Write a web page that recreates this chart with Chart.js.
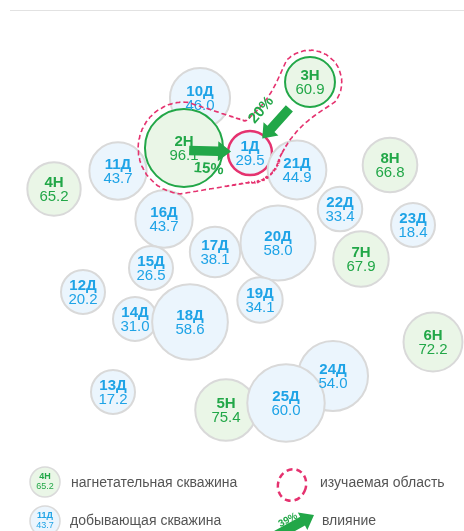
<!DOCTYPE html>
<html lang="ru">
<head>
<meta charset="utf-8">
<script src="https://cdn.jsdelivr.net/npm/chart.js@4"></script>
<style>
  html, body { margin: 0; padding: 0; background: #fff; }
  #wrap { width: 464px; height: 531px; }
</style>
</head>
<body>
<div id="wrap"><canvas id="map" width="464" height="531"></canvas></div>
<script>
// Well map: injectors (Н) and producers (Д), bubble size follows the rate.
// Order matters: later wells are drawn on top of earlier ones.
const wellNames = ["10Д", "11Д", "4Н", "2Н", "3Н", "1Д", "21Д", "8Н", "22Д", "23Д", "16Д", "17Д",
  "20Д", "7Н", "15Д", "12Д", "19Д", "14Д", "18Д", "6Н", "13Д", "24Д", "5Н", "25Д"]
const wellX = [200, 118, 54, 184, 310, 250, 297, 390, 340, 413, 164, 215,
  278, 361, 151, 83, 260, 135, 190, 433, 113, 333, 226, 286]
const wellY = [98, 171, 189, 148, 82, 153, 170, 165, 209, 225, 219, 252,
  243, 259, 268, 292, 300, 319, 322, 342, 392, 376, 410, 403]
const wellValues = [46.0, 43.7, 65.2, 96.1, 60.9, 29.5, 44.9, 66.8, 33.4, 18.4, 43.7, 38.1,
  58.0, 67.9, 26.5, 20.2, 34.1, 31.0, 58.6, 72.2, 17.2, 54.0, 75.4, 60.0]

// studied area and influence of injectors on the target producer
const targetWell = "1Д"
const influenceFrom = ["2Н", "3Н"]
const influenceShare = [15, 20]

const GREEN = "#22a748"
const BLUE = "#1ea3e6"
const PINK = "#e5326f"
const FONT = "'Liberation Sans', Arial, sans-serif"

const isInjector = (name) => name.endsWith("Н")
const radiusFor = (name, v) => isInjector(name)
  ? 25 + (v - 61) * 0.4
  : Math.max(22, 22 + (v - 33) * 0.62)
const inStudy = (name) => name === targetWell || influenceFrom.includes(name)

const points = wellNames.map((n, i) => ({ x: wellX[i], y: wellY[i], r: radiusFor(n, wellValues[i]) }))

function drawArrow(ctx, x1, y1, x2, y2, shaft, headW, headL, color) {
  const a = Math.atan2(y2 - y1, x2 - x1)
  const len = Math.hypot(x2 - x1, y2 - y1)
  ctx.save()
  ctx.translate(x1, y1)
  ctx.rotate(a)
  ctx.fillStyle = color
  ctx.beginPath()
  ctx.moveTo(0, -shaft / 2)
  ctx.lineTo(len - headL, -shaft / 2)
  ctx.lineTo(len - headL, -headW / 2)
  ctx.lineTo(len, 0)
  ctx.lineTo(len - headL, headW / 2)
  ctx.lineTo(len - headL, shaft / 2)
  ctx.lineTo(0, shaft / 2)
  ctx.closePath()
  ctx.fill()
  ctx.restore()
}

// a "link" is a tapered band between two wells, optionally pinched in the middle
function insideLink(l, px, py) {
  const vx = l.b.x - l.a.x, vy = l.b.y - l.a.y
  let t = ((px - l.a.x) * vx + (py - l.a.y) * vy) / (vx * vx + vy * vy)
  t = Math.max(0, Math.min(1, t))
  const R = l.a.R + (l.b.R - l.a.R) * t - l.pinch * Math.sin(Math.PI * t)
  return Math.hypot(px - (l.a.x + vx * t), py - (l.a.y + vy * t)) <= R
}

// outline of the union of links, traced by rays from the target well
function outlineOf(links, cx, cy) {
  const out = []
  for (let k = 0; k < 720; k++) {
    const th = (k / 720) * Math.PI * 2
    const ux = Math.cos(th), uy = Math.sin(th)
    let r = 0
    for (let s = 180; s > 0; s -= 0.5) {
      const px = cx + ux * s, py = cy + uy * s
      if (links.some((l) => insideLink(l, px, py))) { r = s; break }
    }
    out.push([cx + ux * r, cy + uy * r])
  }
  return out
}

const overlay = {
  id: "overlay",
  afterDatasetsDraw(chart) {
    const ctx = chart.ctx
    const meta = chart.getDatasetMeta(0)
    const well = (name) => {
      const i = wellNames.indexOf(name)
      return { x: meta.data[i].x, y: meta.data[i].y, r: points[i].r }
    }

    // faint frame line at the top
    ctx.save()
    ctx.strokeStyle = "#e2e2e2"
    ctx.lineWidth = 1
    ctx.beginPath()
    ctx.moveTo(10, 10.5)
    ctx.lineTo(464, 10.5)
    ctx.stroke()
    ctx.restore()

    // well labels
    ctx.save()
    ctx.textAlign = "center"
    ctx.textBaseline = "middle"
    wellNames.forEach((n, i) => {
      const el = meta.data[i]
      ctx.fillStyle = isInjector(n) ? GREEN : BLUE
      ctx.font = `bold 15px ${FONT}`
      ctx.fillText(n, el.x, el.y - 6)
      ctx.font = `15px ${FONT}`
      ctx.fillText(wellValues[i].toFixed(1), el.x, el.y + 8)
    })
    ctx.restore()

    // studied area: bands joining each injector to the target
    const t = well(targetWell)
    const tc = { x: t.x, y: t.y, R: t.r + 8 }
    const links = influenceFrom.map((n) => {
      const s = well(n)
      const far = Math.hypot(s.x - t.x, s.y - t.y) - s.r - t.r
      return { a: tc, b: { x: s.x, y: s.y, R: s.r + 7 }, pinch: Math.max(0, far - 10) * 0.25 }
    })
    const outline = outlineOf(links, t.x, t.y)
    ctx.save()
    ctx.strokeStyle = PINK
    ctx.lineWidth = 1.6
    ctx.setLineDash([5, 3])
    ctx.beginPath()
    outline.forEach((p, i) => i ? ctx.lineTo(p[0], p[1]) : ctx.moveTo(p[0], p[1]))
    ctx.closePath()
    ctx.stroke()
    ctx.restore()

    // influence arrows
    influenceFrom.forEach((n, i) => {
      const s = well(n)
      const len = Math.hypot(t.x - s.x, t.y - s.y)
      const dx = (t.x - s.x) / len, dy = (t.y - s.y) / len
      const x2 = t.x - dx * 19, y2 = t.y - dy * 19
      const x1 = x2 - dx * 42, y1 = y2 - dy * 42
      drawArrow(ctx, x1, y1 + 2, x2, y2, 9.5, 20, 13, GREEN)
      const mx = (x1 + x2) / 2 - dy * 19, my = (y1 + y2) / 2 + dx * 19
      let a = Math.atan2(dy, dx)
      if (a > Math.PI / 2) a -= Math.PI
      if (a < -Math.PI / 2) a += Math.PI
      ctx.save()
      ctx.translate(mx, my)
      ctx.rotate(a)
      ctx.fillStyle = GREEN
      ctx.font = `bold 15px ${FONT}`
      ctx.textAlign = "center"
      ctx.textBaseline = "middle"
      ctx.fillText(influenceShare[i] + "%", 0, 0)
      ctx.restore()
    })
  },
  afterDraw(chart) {
    const ctx = chart.ctx
    ctx.save()
    // legend bubbles
    const sample = (x, y, fill, color, name, value) => {
      ctx.beginPath()
      ctx.arc(x, y, 15, 0, Math.PI * 2)
      ctx.fillStyle = fill
      ctx.fill()
      ctx.strokeStyle = "#dadada"
      ctx.lineWidth = 1.5
      ctx.stroke()
      ctx.fillStyle = color
      ctx.textAlign = "center"
      ctx.textBaseline = "middle"
      ctx.font = `bold 9px ${FONT}`
      ctx.fillText(name, x, y - 5)
      ctx.font = `9px ${FONT}`
      ctx.fillText(value, x, y + 5)
    }
    sample(45, 482, "#eaf6e7", GREEN, "4Н", "65.2")
    sample(45, 521, "#ebf5fd", BLUE, "11Д", "43.7")

    // studied area sample
    ctx.strokeStyle = PINK
    ctx.lineWidth = 2.5
    ctx.setLineDash([6, 4])
    ctx.beginPath()
    ctx.ellipse(292, 485, 14, 16, 0.3, 0, Math.PI * 2)
    ctx.stroke()
    ctx.setLineDash([])

    // influence sample
    drawArrow(ctx, 268, 540, 314, 515, 10, 20, 13, GREEN)
    ctx.save()
    ctx.translate(288, 520)
    ctx.rotate(-0.5)
    ctx.fillStyle = GREEN
    ctx.font = `bold 10px ${FONT}`
    ctx.textAlign = "center"
    ctx.textBaseline = "middle"
    ctx.fillText("39%", 0, 0)
    ctx.restore()

    // legend texts
    ctx.fillStyle = "#555"
    ctx.font = `14px ${FONT}`
    ctx.textAlign = "left"
    ctx.textBaseline = "middle"
    ctx.fillText("нагнетательная скважина", 71, 483)
    ctx.fillText("добывающая скважина", 70, 521)
    ctx.fillText("изучаемая область", 320, 483)
    ctx.fillText("влияние", 322, 521)
    ctx.restore()
  }
}

new Chart(document.getElementById("map"), {
  type: "bubble",
  data: {
    datasets: [{
      data: points,
      backgroundColor: (c) => isInjector(wellNames[c.dataIndex]) ? "#eaf6e7" : "#ebf5fd",
      borderColor: (c) => {
        const n = wellNames[c.dataIndex]
        if (n === targetWell) return PINK
        if (inStudy(n)) return GREEN
        return "#d9d9d9"
      },
      borderWidth: (c) => wellNames[c.dataIndex] === targetWell ? 2.5 : 2
    }]
  },
  options: {
    responsive: false,
    animation: false,
    devicePixelRatio: 1,
    events: [],
    layout: { padding: 0, autoPadding: false },
    plugins: { legend: { display: false }, tooltip: { enabled: false } },
    scales: {
      x: { type: "linear", min: 0, max: 464, display: false },
      y: { type: "linear", min: 0, max: 531, reverse: true, display: false }
    }
  },
  plugins: [overlay]
})
</script>
</body>
</html>
